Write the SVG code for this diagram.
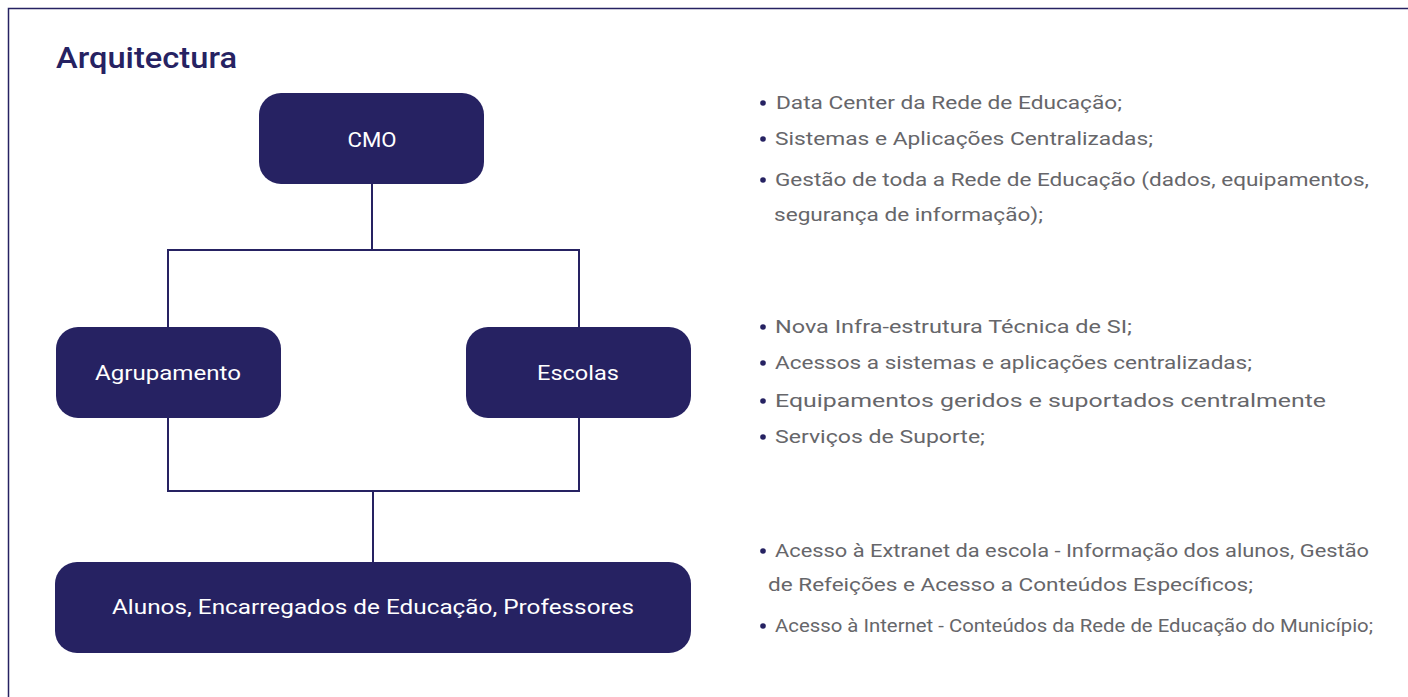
<svg xmlns="http://www.w3.org/2000/svg" width="1408" height="697" viewBox="0 0 1408 697">
<style>
.node{fill:#262262;}
.nt{fill:#ffffff;font-family:"Roboto","Liberation Sans",sans-serif;font-size:21px;text-anchor:middle;font-weight:400;}
.conn{stroke:#262262;stroke-width:2;fill:none;}
.tx{fill:#66666a;font-family:"Roboto","Liberation Sans",sans-serif;font-size:19px;font-weight:400;}
.bul{fill:#262262;}
</style>
<rect x="0" y="0" width="1408" height="697" fill="#ffffff"/>
<path d="M8.5 697 V8.5 H1408" stroke="#262262" stroke-width="1.5" fill="none"/>
<text x="56" y="68" fill="#262262" font-family="Roboto,'Liberation Sans',sans-serif" font-size="30" font-weight="500" textLength="181" lengthAdjust="spacingAndGlyphs">Arquitectura</text>
<g id="connectors">
<path class="conn" d="M372 184 V250 M168 327 V250 H579 V327"/>
<path class="conn" d="M168 418 V491 H579 V418 M373 491 V562"/>
</g>
<g id="cmo"><rect class="node" x="259" y="93" width="225" height="91" rx="22"/><text class="nt" x="372" y="147" textLength="49" lengthAdjust="spacingAndGlyphs">CMO</text></g>
<g id="agrupamento"><rect class="node" x="56" y="327" width="225" height="91" rx="22"/><text class="nt" x="168" y="380" textLength="146" lengthAdjust="spacingAndGlyphs">Agrupamento</text></g>
<g id="escolas"><rect class="node" x="466" y="327" width="225" height="91" rx="22"/><text class="nt" x="578" y="380" textLength="82" lengthAdjust="spacingAndGlyphs">Escolas</text></g>
<g id="alunos"><rect class="node" x="55" y="562" width="636" height="91" rx="22"/><text class="nt" x="373" y="614" textLength="522" lengthAdjust="spacingAndGlyphs">Alunos, Encarregados de Educação, Professores</text></g>
<g id="list1">
<circle class="bul" cx="763" cy="103" r="2.8"/><text class="tx" x="776" y="109" textLength="346" lengthAdjust="spacingAndGlyphs">Data Center da Rede de Educação;</text>
<circle class="bul" cx="763" cy="139" r="2.8"/><text class="tx" x="775" y="145" textLength="378" lengthAdjust="spacingAndGlyphs">Sistemas e Aplicações Centralizadas;</text>
<circle class="bul" cx="763" cy="180" r="2.8"/><text class="tx" x="775" y="186" textLength="594" lengthAdjust="spacingAndGlyphs">Gestão de toda a Rede de Educação (dados, equipamentos,</text>
<text class="tx" x="774" y="221" textLength="269" lengthAdjust="spacingAndGlyphs">segurança de informação);</text>
</g>
<g id="list2">
<circle class="bul" cx="763" cy="327" r="2.8"/><text class="tx" x="775" y="333" textLength="357" lengthAdjust="spacingAndGlyphs">Nova Infra-estrutura Técnica de SI;</text>
<circle class="bul" cx="763" cy="363" r="2.8"/><text class="tx" x="775" y="369" textLength="477" lengthAdjust="spacingAndGlyphs">Acessos a sistemas e aplicações centralizadas;</text>
<circle class="bul" cx="763" cy="401" r="2.8"/><text class="tx" x="775" y="407" textLength="551" lengthAdjust="spacingAndGlyphs">Equipamentos geridos e suportados centralmente</text>
<circle class="bul" cx="763" cy="437" r="2.8"/><text class="tx" x="775" y="443" textLength="210" lengthAdjust="spacingAndGlyphs">Serviços de Suporte;</text>
</g>
<g id="list3">
<circle class="bul" cx="763" cy="551" r="2.8"/><text class="tx" x="775" y="557" textLength="594" lengthAdjust="spacingAndGlyphs">Acesso à Extranet da escola - Informação dos alunos, Gestão</text>
<text class="tx" x="768" y="591" textLength="485" lengthAdjust="spacingAndGlyphs">de Refeições e Acesso a Conteúdos Específicos;</text>
<circle class="bul" cx="763" cy="626" r="2.8"/><text class="tx" x="775" y="632" textLength="598" lengthAdjust="spacingAndGlyphs">Acesso à Internet - Conteúdos da Rede de Educação do Município;</text>
</g>
</svg>
